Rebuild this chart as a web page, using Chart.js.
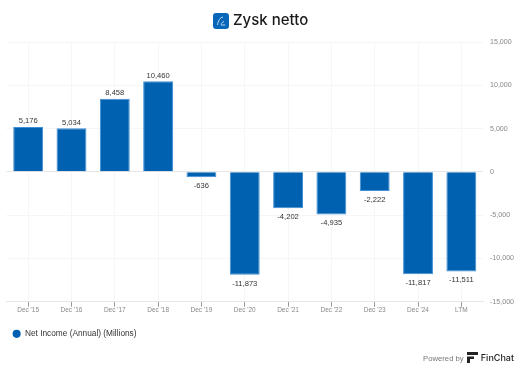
<!DOCTYPE html>
<html>
<head>
<meta charset="utf-8">
<title>Zysk netto</title>
<script src="https://cdn.jsdelivr.net/npm/chart.js@4"></script>
<style>
    html, body { margin: 0; padding: 0; background: #fff; }
    #wrap { position: relative; width: 521px; height: 369px; overflow: hidden; }
    #icon { position: absolute; left: 213px; top: 13px; }
    #title { position: absolute; left: 233px; top: 11px; line-height: 18px; white-space: nowrap;
        font-family: Inter, sans-serif; font-size: 15px; font-weight: 500; color: #1a1a1a; }
    #powered { position: absolute; right: 7px; top: 351px; height: 14px; line-height: 14px; white-space: nowrap;
        font-family: "Liberation Sans", sans-serif; font-size: 7.7px; color: #777; }
    #powered svg { vertical-align: -2px; margin: 0 1px 0 3px; }
    #powered b { font-family: Inter, sans-serif; font-size: 9px; font-weight: 500; color: #222; }
</style>
</head>
<body>
<div id="wrap">
    <canvas id="chart" width="521" height="369"></canvas>
    <svg id="icon" width="16" height="16" viewBox="0 0 16 16">
        <rect width="16" height="16" rx="3" fill="#0a66b8"/>
        <path d="M4.5 12 C5 8 7 4.5 10 4 M8 11.5 C8.5 10 9.5 9 11 8.5 M8 12 H12" stroke="#cfe3f5" stroke-width="0.9" fill="none"/>
    </svg>
    <div id="title">Zysk netto</div>
    <div id="powered">Powered by<svg width="11" height="11" viewBox="0 0 11 11"><path d="M0 0H11V3H0ZM0 4.5H7V7H3V11H0Z" fill="#222"/></svg> <b>FinChat</b></div>
</div>
<script>
const categories = ["Dec '15", "Dec '16", "Dec '17", "Dec '18", "Dec '19", "Dec '20", "Dec '21", "Dec '22", "Dec '23", "Dec '24", "LTM"];
const netIncome = [5176, 5034, 8458, 10460, -636, -11873, -4202, -4935, -2222, -11817, -11511];
const yTicks = [15000, 10000, 5000, 0, -5000, -10000, -15000];

// Value labels above / below the bars
const barLabels = {
    id: 'barLabels',
    afterDatasetsDraw(chart) {
        const ctx = chart.ctx;
        ctx.save();
        ctx.font = '7.6px "Liberation Sans", sans-serif';
        ctx.fillStyle = '#333';
        ctx.textAlign = 'center';
        chart.getDatasetMeta(0).data.forEach((bar, i) => {
            const v = netIncome[i];
            ctx.textBaseline = v < 0 ? 'top' : 'bottom';
            ctx.fillText(v.toLocaleString('en-US'), bar.x, v < 0 ? bar.y + 5 : bar.y - 2);
        });
        ctx.restore();
    }
};

new Chart(document.getElementById('chart').getContext('2d'), {
    type: 'bar',
    data: {
        labels: categories,
        datasets: [{
            label: 'Net Income (Annual) (Millions)',
            data: netIncome,
            backgroundColor: '#0061b0',
            borderColor: '#3f8fd6',
            borderWidth: 1,
            barPercentage: 0.69,
            categoryPercentage: 1
        }]
    },
    plugins: [barLabels],
    options: {
        responsive: false,
        animation: false,
        layout: { padding: { left: 6.5, right: 4, top: 42, bottom: 21 } },
        scales: {
            x: {
                grid: { color: '#f6f6f6', offset: false, tickColor: '#999', tickLength: 5 },
                border: { color: '#e6e6e6' },
                afterFit(scale) { scale.height = 22; },
                ticks: { color: '#888', font: { family: '"Liberation Sans", sans-serif', size: 6.5 }, maxRotation: 0, autoSkip: false, padding: 0 }
            },
            y: {
                position: 'right',
                min: -15000,
                max: 15000,
                afterBuildTicks(scale) { scale.ticks = yTicks.map(v => ({ value: v })); },
                afterFit(scale) { scale.width = 34; },
                grid: {
                    color: ctx => ctx.tick.value === 0 ? '#e6e6e6' : '#f6f6f6',
                    drawTicks: false
                },
                border: { display: false },
                ticks: {
                    color: '#888',
                    font: { family: '"Liberation Sans", sans-serif', size: 7.1 },
                    padding: 7,
                    callback: v => v.toLocaleString('en-US')
                }
            }
        },
        plugins: {
            legend: {
                position: 'bottom',
                align: 'start',
                labels: {
                    usePointStyle: true,
                    pointStyle: 'circle',
                    boxWidth: 8.5,
                    boxHeight: 5.7,
                    color: '#333',
                    font: { family: '"Liberation Sans", sans-serif', size: 8.3 },
                    padding: 6,
                    generateLabels(chart) {
                        const items = Chart.defaults.plugins.legend.labels.generateLabels(chart);
                        items.forEach(item => { item.lineWidth = 0; });
                        return items;
                    }
                }
            },
            tooltip: { enabled: false }
        }
    }
});
</script>
</body>
</html>
